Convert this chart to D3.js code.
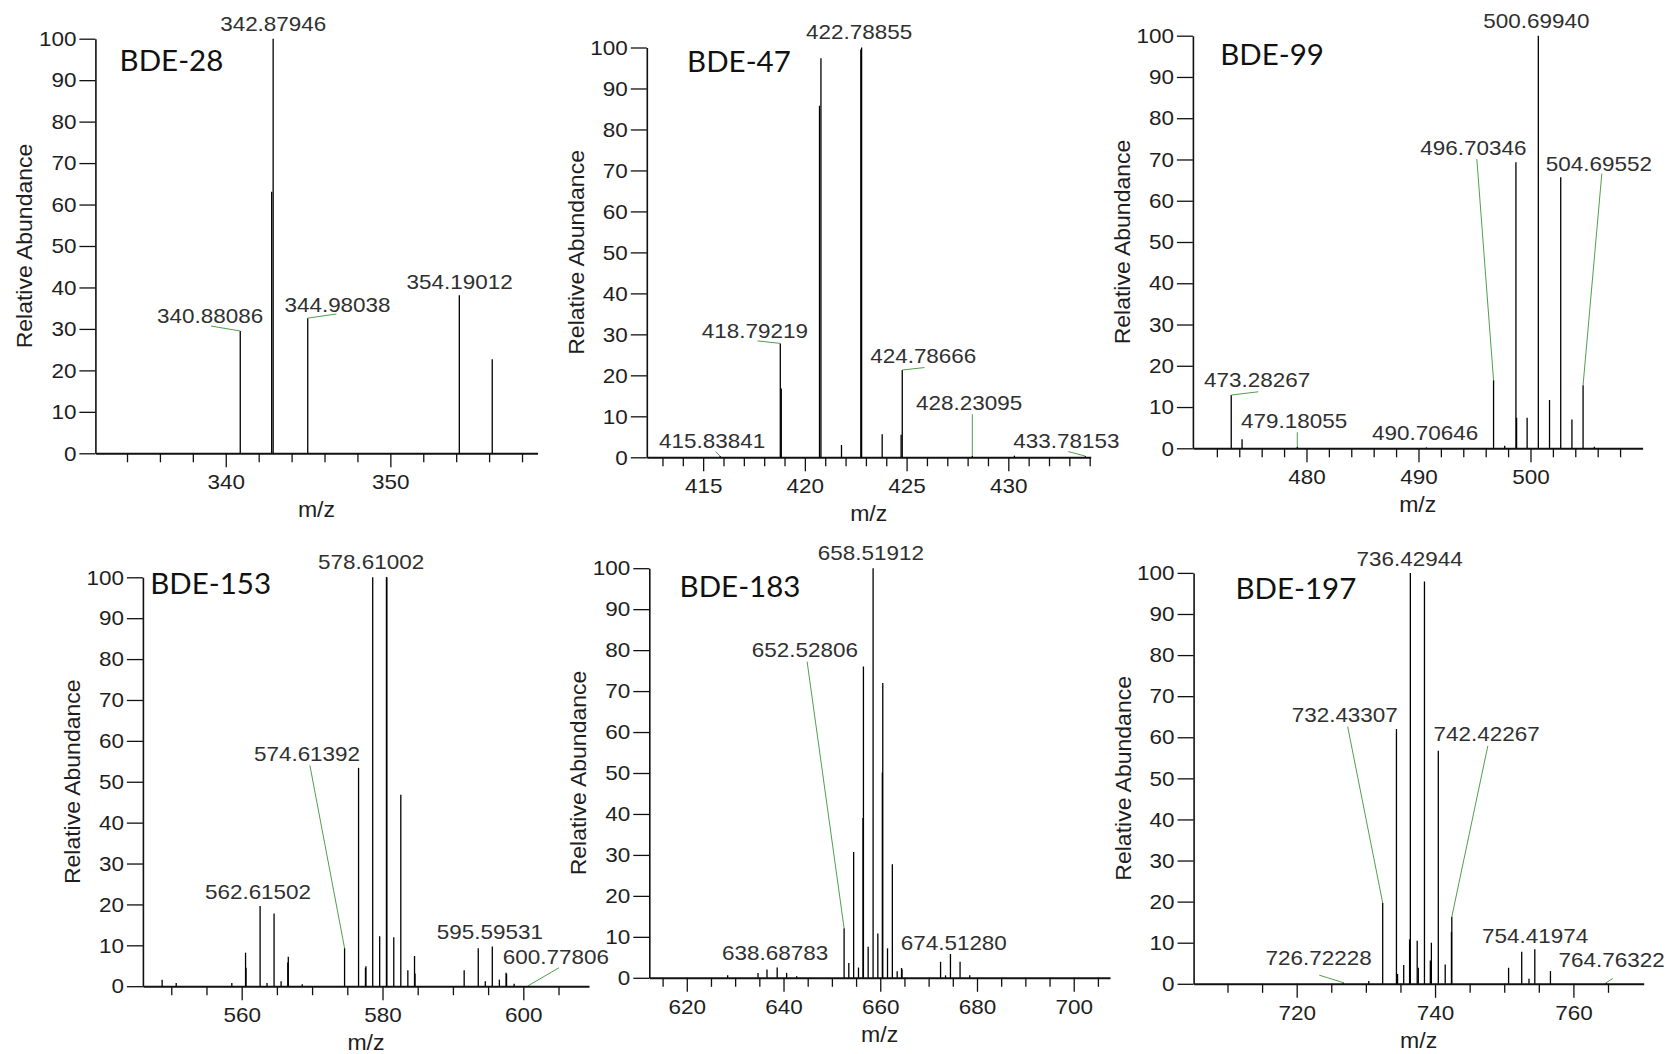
<!DOCTYPE html>
<html>
<head>
<meta charset="utf-8">
<title>PBDE mass spectra</title>
<script src="https://cdn.jsdelivr.net/npm/d3@7"></script>
<style>
  html, body { margin: 0; padding: 0; background: #fff; }
  svg { display: block; }
  .axis path, .axis line { stroke: #111; }
  .axis text { font-family: "Liberation Sans", Arial, sans-serif; font-size: 21px; fill: #1e1e1e; }
  .peak { stroke: #000; stroke-width: 1.3; }
  .leader { stroke: #4f9f4f; stroke-width: 1; fill: none; }
  .mzlabel { font-family: "Liberation Sans", Arial, sans-serif; font-size: 21px; fill: #303030; }
  .axtitle { font-family: "Liberation Sans", Arial, sans-serif; font-size: 21.5px; fill: #1e1e1e; }
  .compound { font-family: Lato, "Open Sans", sans-serif; font-size: 29.5px; fill: #111; }
</style>
</head>
<body>
<svg id="chart" width="1671" height="1054"></svg>
<script>
// ---------- spectra: m/z and relative abundance (%) of each centroid ----------
const bde28Mz    = [340.88086, 342.79, 342.87946, 344.98038, 354.19012, 356.19];
const bde28Abund = [29.5, 63.1, 100, 32.6, 38.1, 22.7];

const bde47Mz    = [415.83841, 418.79219, 418.84, 420.72, 420.79, 421.80, 422.75, 422.78855,
                    423.80, 424.73, 424.78666, 428.23095, 430.30, 433.78153];
const bde47Abund = [0.3, 27.8, 16.8, 85.8, 97.4, 3.0, 99.5, 100, 5.6, 5.5, 21.3, 0.4, 0.4, 0.3];

const bde99Mz    = [473.28267, 474.25, 479.18055, 490.70646, 496.70346, 497.70, 498.70, 498.76,
                    499.70, 500.69940, 501.70, 502.70, 503.70, 504.69552, 505.70];
const bde99Abund = [12.9, 2.2, 0.3, 0.2, 16.5, 0.6, 69.3, 7.4, 7.4, 100, 11.7, 65.7, 7.0, 15.3, 0.4];

const bde153Mz    = [548.7, 550.7, 558.6, 560.55, 560.62, 562.61502, 563.6, 564.6, 565.6, 566.55,
                     566.62, 568.6, 574.61392, 576.6, 577.58, 577.65, 578.61002, 579.6, 580.56,
                     580.62, 581.6, 582.6, 583.6, 584.55, 584.62, 591.6, 593.6, 594.6, 595.59531,
                     596.6, 597.55, 597.62, 598.7, 600.77806];
const bde153Abund = [1.6, 0.8, 0.8, 8.2, 4.5, 19.6, 0.8, 17.8, 1.2, 5.8,
                     7.2, 0.5, 9.3, 53.4, 4.5, 4.9, 100, 12.2, 100,
                     100, 12.0, 46.8, 3.9, 7.4, 3.1, 3.9, 9.3, 1.2, 9.7,
                     1.6, 3.3, 3.0, 0.6, 0.2];

const bde183Mz    = [628.45, 634.73, 636.58, 638.68783, 640.64, 642.71, 652.52806, 653.5, 654.5,
                     655.5, 656.43, 656.52, 657.5, 658.51912, 659.5, 660.43, 660.52, 661.5, 662.5,
                     663.5, 664.4, 664.5, 672.47, 673.5, 674.51280, 676.5, 678.5];
const bde183Abund = [0.6, 1.2, 2.0, 2.5, 1.2, 0.4, 12.1, 3.6, 30.7,
                     2.5, 39.0, 76.0, 7.6, 100, 10.8, 50.1, 72.0, 7.2, 27.7,
                     1.6, 2.4, 2.0, 3.9, 0.6, 5.8, 3.9, 0.6];

const bde197Mz    = [726.72228, 730.42, 732.43307, 734.42, 734.58, 735.47, 736.32, 736.42944,
                     737.42, 737.58, 738.47, 739.32, 739.47, 740.47, 741.47, 742.37, 742.42267,
                     750.63, 752.53, 753.58, 754.41974, 756.68, 764.76322];
const bde197Abund = [0.3, 0.7, 19.7, 62.0, 2.4, 4.6, 10.8, 100,
                     10.5, 3.9, 97.9, 5.7, 10.0, 56.7, 4.7, 12.6, 16.3,
                     3.9, 7.8, 1.2, 8.4, 3.1, 0.3];

// ---------- axis ticks ----------
const abundTicks = [0, 10, 20, 30, 40, 50, 60, 70, 80, 90, 100];
const bde28Ticks  = [340, 350];
const bde47Ticks  = [415, 420, 425, 430];
const bde99Ticks  = [480, 490, 500];
const bde153Ticks = [560, 580, 600];
const bde183Ticks = [620, 640, 660, 680, 700];
const bde197Ticks = [720, 740, 760];

// ---------- peak annotations: label text (the centroid m/z) ----------
const bde28Labels  = ["342.87946", "340.88086", "344.98038", "354.19012"];
const bde47Labels  = ["422.78855", "418.79219", "424.78666", "428.23095", "415.83841", "433.78153"];
const bde99Labels  = ["500.69940", "496.70346", "504.69552", "473.28267", "479.18055", "490.70646"];
const bde153Labels = ["578.61002", "574.61392", "562.61502", "595.59531", "600.77806"];
const bde183Labels = ["658.51912", "652.52806", "638.68783", "674.51280"];
const bde197Labels = ["736.42944", "732.43307", "742.42267", "754.41974", "726.72228", "764.76322"];

// ---------- annotation placement, in data units: [m/z, abundance] of the text,
//            and optional start of the green leader drawn to the peak top ----------
const bde28Place = [
  { at: [342.885, 101.8] },
  { at: [339.05, 31.4], lead: [339.10, 30.7] },
  { at: [346.79, 34.2], lead: [346.72, 33.6] },
  { at: [354.21, 39.6] }
];
const bde47Place = [
  { at: [422.67, 102.0] },
  { at: [417.54, 29.2], lead: [417.67, 28.4] },
  { at: [425.82, 22.9], lead: [425.88, 21.9] },
  { at: [428.07, 11.5], lead: [428.23095, 10.5] },
  { at: [415.44, 2.2],  lead: [415.61, 1.4] },
  { at: [432.85, 2.2],  lead: [432.95, 1.4] }
];
const bde99Place = [
  { at: [500.52, 101.8] },
  { at: [494.90, 71.1], lead: [495.21, 70.1] },
  { at: [506.11, 67.3], lead: [506.37, 66.6] },
  { at: [475.60, 14.8], lead: [475.70, 13.7] },
  { at: [478.90, 4.8],  lead: [479.18055, 3.9] },
  { at: [490.60, 1.9] }
];
const bde153Place = [
  { at: [578.38, 102.1] },
  { at: [569.28, 55.0], lead: [569.69, 54.0] },
  { at: [562.32, 21.4] },
  { at: [595.25, 11.5] },
  { at: [604.64, 5.5],  lead: [605.05, 4.5] }
];
const bde183Place = [
  { at: [658.07, 102.1] },
  { at: [644.40, 78.2], lead: [644.88, 77.2] },
  { at: [638.27, 4.3] },
  { at: [675.20, 6.9] }
];
const bde197Place = [
  { at: [736.32, 101.8] },
  { at: [726.95, 63.8], lead: [727.37, 62.6] },
  { at: [747.47, 59.1], lead: [747.63, 57.9] },
  { at: [754.47, 9.9] },
  { at: [723.16, 4.5],  lead: [723.26, 2.1] },
  { at: [765.53, 4.1],  lead: [765.70, 1.3] }
];

// ---------- panel layout (pixels) ----------
const panels = [
  { name: "BDE-28",  mz: bde28Mz,  ab: bde28Abund,  labels: bde28Labels,  place: bde28Place,
    ticks: bde28Ticks,  minor: d3.range(334, 359, 2), domain: [332.08, 358.94],
    frame: { x0: 95.4,  x1: 537.5,  top: 38.7,  bottom: 453.3 }, title: { dx: 24.2, y: 70.7 } },
  { name: "BDE-47",  mz: bde47Mz,  ab: bde47Abund,  labels: bde47Labels,  place: bde47Place,
    ticks: bde47Ticks,  minor: d3.range(413, 435, 1), domain: [412.23, 434.05],
    frame: { x0: 646.8, x1: 1090.7, top: 47.5,  bottom: 457.3 }, title: { dx: 40.3, y: 71.7 } },
  { name: "BDE-99",  mz: bde99Mz,  ab: bde99Abund,  labels: bde99Labels,  place: bde99Place,
    ticks: bde99Ticks,  minor: d3.range(472, 509, 2), domain: [469.86, 510.01],
    frame: { x0: 1192.9, x1: 1642.6, top: 35.7, bottom: 448.3 }, title: { dx: 27.3, y: 65.0 } },
  { name: "BDE-153", mz: bde153Mz, ab: bde153Abund, labels: bde153Labels, place: bde153Place,
    ticks: bde153Ticks, minor: d3.range(550, 606, 5), domain: [545.97, 609.33],
    frame: { x0: 142.9, x1: 589.0,  top: 577.3, bottom: 986.2 }, title: { dx: 7.3, y: 594.2 } },
  { name: "BDE-183", mz: bde183Mz, ab: bde183Abund, labels: bde183Labels, place: bde183Place,
    ticks: bde183Ticks, minor: d3.range(615, 706, 5), domain: [612.25, 707.5],
    frame: { x0: 649.3, x1: 1110.0, top: 568.2, bottom: 977.8 }, title: { dx: 30.3, y: 596.9 } },
  { name: "BDE-197", mz: bde197Mz, ab: bde197Abund, labels: bde197Labels, place: bde197Place,
    ticks: bde197Ticks, minor: d3.range(710, 766, 5), domain: [705.1, 770.16],
    frame: { x0: 1193.6, x1: 1643.7, top: 572.9, bottom: 983.8 }, title: { dx: 41.9, y: 599.2 } }
];

const svg = d3.select("#chart");
const TEXT_STRETCH = 1.07;   // the Arial-type lettering is slightly wide

panels.forEach(p => {
  const f = p.frame;
  const x = d3.scaleLinear().domain(p.domain).range([f.x0, f.x1]);
  const y = d3.scaleLinear().domain([0, 100]).range([f.bottom, f.top]);
  const g = svg.append("g").attr("class", "panel");

  // minor x ticks (unlabelled)
  const minorVals = p.minor.filter(v => !p.ticks.includes(v));
  g.append("g")
    .attr("class", "axis")
    .attr("transform", `translate(0,${f.bottom})`)
    .call(d3.axisBottom(x).tickValues(minorVals).tickSize(9).tickFormat(""))
    .call(s => s.select(".domain").remove())
    .call(s => s.selectAll("line").attr("stroke-width", 1.3));

  // major x ticks with labels and the baseline
  g.append("g")
    .attr("class", "axis")
    .attr("transform", `translate(0,${f.bottom})`)
    .call(d3.axisBottom(x).tickValues(p.ticks).tickSize(14).tickSizeOuter(0)
            .tickPadding(7).tickFormat(d3.format("d")))
    .call(s => s.select(".domain").attr("stroke-width", 1.9))
    .call(s => s.selectAll("line").attr("stroke-width", 1.3))
    .call(s => s.selectAll("text").attr("class", "wide").attr("font-size", null).attr("font-family", null));

  // y axis
  g.append("g")
    .attr("class", "axis")
    .attr("transform", `translate(${f.x0},0)`)
    .call(d3.axisLeft(y).tickValues(abundTicks).tickSize(16).tickSizeOuter(0).tickPadding(3))
    .call(s => s.select(".domain").attr("stroke-width", 1.6))
    .call(s => s.selectAll("line").attr("stroke-width", 1.3))
    .call(s => s.selectAll("text").attr("class", "wide").attr("font-size", null).attr("font-family", null));

  // axis titles
  g.append("text")
    .attr("class", "axtitle wide")
    .attr("text-anchor", "middle")
    .attr("transform", `translate(${f.x0 - 63},${(f.top + f.bottom) / 2}) rotate(-90)`)
    .text("Relative Abundance");
  g.append("text")
    .attr("class", "axtitle wide")
    .attr("text-anchor", "middle")
    .attr("x", (f.x0 + f.x1) / 2)
    .attr("y", f.bottom + 64)
    .text("m/z");

  // centroid sticks
  const peaks = d3.zip(p.mz, p.ab);
  g.selectAll("line.peak")
    .data(peaks)
    .join("line")
    .attr("class", "peak")
    .attr("x1", d => x(d[0])).attr("x2", d => x(d[0]))
    .attr("y1", y(0)).attr("y2", d => y(d[1]));

  // annotations
  p.labels.forEach((txt, i) => {
    const pl = p.place[i];
    const k = p.mz.indexOf(+txt);
    const peakAb = k >= 0 ? p.ab[k] : 0;
    if (pl.lead) {
      g.append("line")
        .attr("class", "leader")
        .attr("x1", x(pl.lead[0])).attr("y1", y(pl.lead[1]))
        .attr("x2", x(+txt)).attr("y2", y(peakAb));
    }
    g.append("text")
      .attr("class", "mzlabel wide")
      .attr("text-anchor", "middle")
      .attr("x", x(pl.at[0]))
      .attr("y", y(pl.at[1]))
      .text(txt);
  });

  // compound name
  g.append("text")
    .attr("class", "compound")
    .attr("x", f.x0 + p.title.dx)
    .attr("y", p.title.y)
    .text(p.name);
});

// widen the sans-serif lettering a touch
svg.selectAll("text.wide").each(function () {
  const len = this.getComputedTextLength();
  this.setAttribute("textLength", (len * TEXT_STRETCH).toFixed(1));
  this.setAttribute("lengthAdjust", "spacingAndGlyphs");
});
</script>
</body>
</html>
